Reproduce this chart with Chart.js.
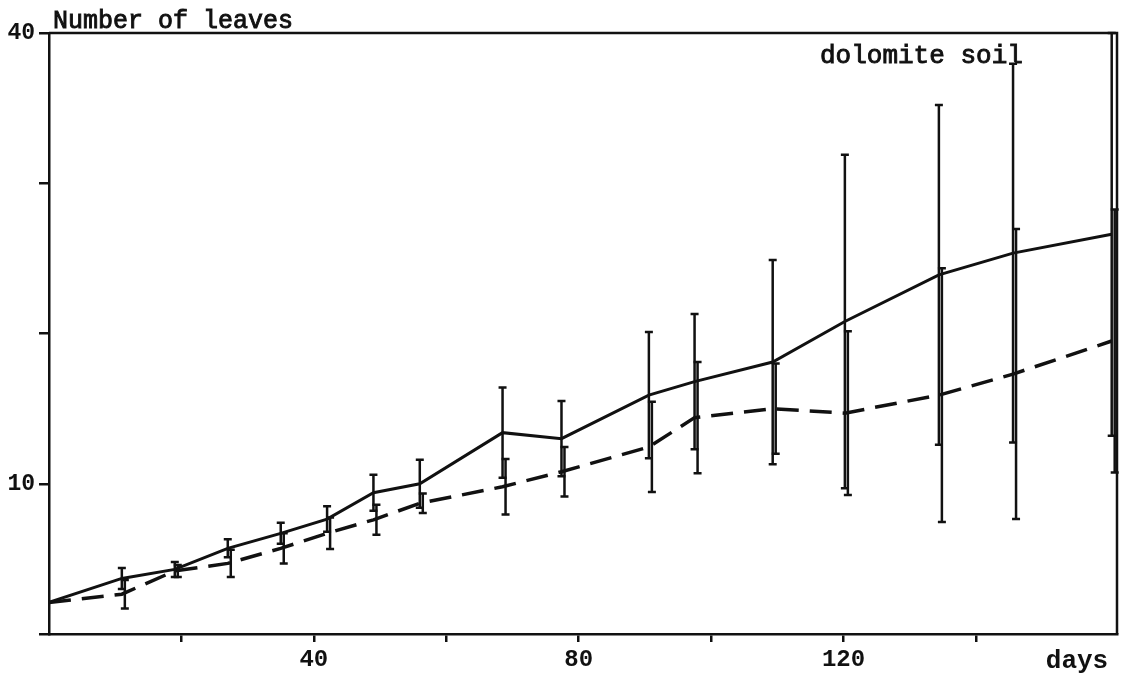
<!DOCTYPE html>
<html>
<head>
<meta charset="utf-8">
<script src="https://cdn.jsdelivr.net/npm/chart.js@4.4.0/dist/chart.umd.min.js"></script>
<style>
  body { margin: 0; background: #fff; }
  canvas { display: block; }
</style>
</head>
<body>
<canvas id="leavesChart" width="1121" height="673"></canvas>
<script>
// days of observation
const days = [0, 11, 19, 27, 35, 42, 49, 56, 68.5, 77.4, 90.6, 97.5, 109.3, 120.2, 134.4, 145.6, 160.5];

// solid line
const solidMean = [2.1, 3.7, 4.3, 5.7, 6.7, 7.65, 9.4, 10.0, 13.4, 13.0, 15.9, 16.8, 18.1, 20.8, 23.9, 25.35, 26.6];
const solidErr = [0, 0.7, 0.5, 0.6, 0.7, 0.85, 1.2, 1.6, 3.0, 2.5, 4.2, 4.5, 6.8, 11.1, 11.3, 12.6, 13.4];

// dashed line
const dashedMean = [2.1, 2.65, 4.2, 4.7, 5.7, 6.7, 7.6, 8.7, 9.8, 10.8, 12.45, 14.4, 15.0, 14.7, 15.9, 17.3, 19.5];
const dashedErr = [0, 0.95, 0.4, 0.9, 1.0, 1.05, 1.0, 0.65, 1.85, 1.65, 3.0, 3.7, 3.0, 5.45, 8.45, 9.65, 8.75];

const xTickLabels = [40, 80, 120];
const yTickLabels = [10, 40];

const ink = '#111';
const mono = '"Liberation Mono", "Courier New", monospace';

// typewriter-ish text: fill plus a thin stroke
function typeText(ctx, text, x, y) {
  ctx.fillText(text, x, y);
  ctx.lineWidth = 0.9;
  ctx.strokeText(text, x, y);
}

// draws error bars, frame and the texts
const extras = {
  id: 'extras',
  afterDatasetsDraw(chart) {
    const { ctx, chartArea, scales: { x, y } } = chart;
    ctx.save();
    ctx.strokeStyle = ink;
    ctx.lineWidth = 2.5;
    chart.data.datasets.forEach(ds => {
      ds.data.forEach((pt, i) => {
        const e = ds.errors[i];
        if (!e) return;
        const px = x.getPixelForValue(pt.x) + ds.barShift;
        const top = y.getPixelForValue(pt.y + e);
        const bottom = y.getPixelForValue(pt.y - e);
        ctx.beginPath();
        ctx.moveTo(px, top); ctx.lineTo(px, bottom);
        ctx.moveTo(px - 4, top); ctx.lineTo(px + 4, top);
        ctx.moveTo(px - 4, bottom); ctx.lineTo(px + 4, bottom);
        ctx.stroke();
      });
    });

    // top and right frame
    ctx.lineWidth = 2.5;
    ctx.beginPath();
    ctx.moveTo(chartArea.left, chartArea.top);
    ctx.lineTo(chartArea.right, chartArea.top);
    ctx.lineTo(chartArea.right, chartArea.bottom);
    ctx.stroke();

    ctx.fillStyle = ink;
    ctx.textAlign = 'left';
    ctx.textBaseline = 'alphabetic';
    ctx.font = '25px ' + mono;
    typeText(ctx, 'Number of leaves', chartArea.left + 4, chartArea.top - 5);
    ctx.font = '26px ' + mono;
    typeText(ctx, 'dolomite soil', chartArea.left + 771, chartArea.top + 30);
    ctx.font = 'bold 26px ' + mono;
    ctx.textAlign = 'center';
    ctx.fillText('days', chartArea.left + 1028, 668);
    ctx.restore();
  }
};

const ctx = document.getElementById('leavesChart').getContext('2d');

new Chart(ctx, {
  type: 'line',
  data: {
    datasets: [{
      data: days.map((d, i) => ({ x: d, y: solidMean[i] })),
      errors: solidErr,
      barShift: 0,
      borderColor: ink,
      borderWidth: 3,
      pointRadius: 0,
      tension: 0,
      fill: false
    }, {
      data: days.map((d, i) => ({ x: d, y: dashedMean[i] })),
      errors: dashedErr,
      barShift: 3,
      borderColor: ink,
      borderWidth: 3.5,
      borderDash: [22, 11],
      pointRadius: 0,
      tension: 0,
      fill: false
    }]
  },
  plugins: [extras],
  options: {
    responsive: false,
    animation: false,
    devicePixelRatio: 1,
    layout: { padding: { top: 33, right: 4, left: 0, bottom: 0 } },
    plugins: {
      legend: { display: false },
      tooltip: { enabled: false }
    },
    scales: {
      x: {
        type: 'linear',
        min: 0,
        max: 161.3,
        afterBuildTicks: scale => {
          scale.ticks = scale.ticks.filter(t => t.value > 0 && t.value <= 140 && t.value % 20 === 0);
        },
        afterFit: scale => { scale.height = 39; },
        ticks: {
          stepSize: 20,
          autoSkip: false,
          maxRotation: 0,
          padding: 4,
          color: ink,
          font: { family: mono, size: 24, weight: 'bold' },
          callback: v => xTickLabels.includes(v) ? String(v) : ''
        },
        grid: { drawOnChartArea: false, drawTicks: true, tickLength: 8, color: ink, lineWidth: 2.5 },
        border: { display: true, color: ink, width: 2.5 }
      },
      y: {
        min: 0,
        max: 40,
        afterFit: scale => { scale.width = 49; },
        ticks: {
          stepSize: 10,
          padding: 4,
          color: ink,
          font: { family: mono, size: 23, weight: 'bold' },
          callback: v => yTickLabels.includes(v) ? String(v) : ''
        },
        grid: { drawOnChartArea: false, drawTicks: true, tickLength: 10, color: ink, lineWidth: 2.5 },
        border: { display: true, color: ink, width: 2.5 }
      }
    }
  }
});
</script>
</body>
</html>
